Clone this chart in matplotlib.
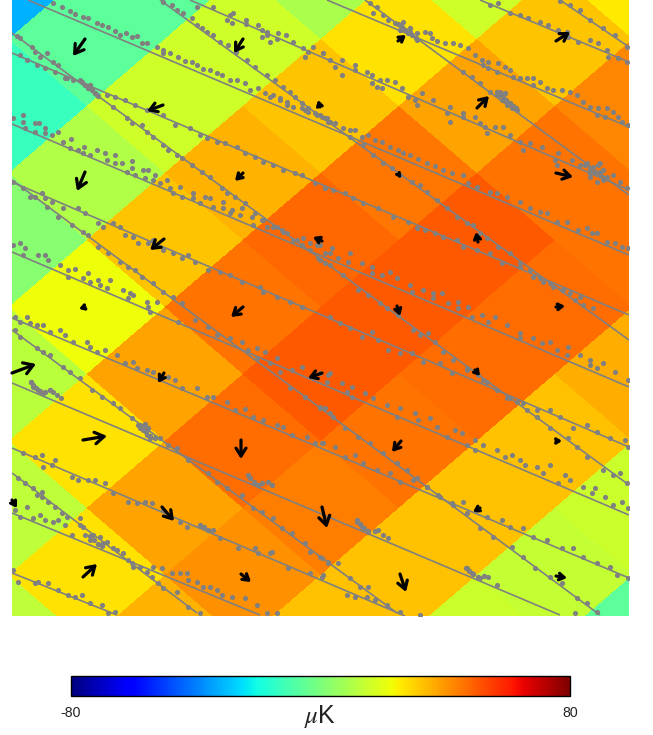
import numpy as np
import matplotlib
matplotlib.use('Agg')
import matplotlib.pyplot as plt

plt.rcParams['font.family'] = ['Liberation Sans', 'DejaVu Sans']
plt.rcParams['mathtext.fontset'] = 'stix'

# --- sky temperature per diamond pixel (muK), one list per map row, s = column index
row_s = {
    -4: (-5, [-32, -6, 9, 16, 26]),
    -3: (-4, [-6, 16, 27, 32]),
    -2: (-5, [-13, 16, 32, 38, 43]),
    -1: (-4, [10, 35, 45, 46]),
    0: (-5, [2, 32, 48, 50, 46]),
    1: (-4, [22, 46, 50, 47]),
    2: (-5, [12, 38, 50, 47, 36]),
    3: (-4, [27, 47, 46, 33]),
    4: (-5, [13, 38, 44, 33, 15]),
    5: (-4, [27, 41, 33, 14]),
    6: (-5, [13, 35, 33, 15, -6]),
}

# --- polarisation arrows: tail x, tail y, head x, head y (image pixels)
arrow_tail_x = [85, 243, 163, 85, 243, 164, 320, 85, 243, 164, 322, 322, 399, 398, 478, 477, 556, 556, 556, 397, 475, 401, 556, 480, 322, 400, 556, 241, 241, 162, 83, 83, 12, 12]
arrow_tail_y = [39, 39, 105, 172, 173, 239, 107, 307, 307, 373, 373, 241, 175, 41, 242, 108, 41, 173, 307, 306, 370, 441, 441, 508, 507, 574, 576, 440, 574, 507, 440, 577, 373, 500]
arrow_head_x = [73, 234, 147, 77, 235, 150, 318, 79, 231, 158, 308, 313, 401, 406, 476, 489, 570, 573, 565, 400, 480, 392, 562, 473, 327, 406, 567, 241, 251, 174, 107, 97, 36, 17]
arrow_head_y = [56, 53, 111, 191, 181, 250, 100, 309, 317, 383, 378, 237, 178, 35, 232, 96, 32, 177, 306, 316, 376, 452, 441, 512, 528, 592, 578, 459, 582, 521, 436, 564, 364, 508]

# --- straight scan lines: start and end (image pixels)
line_x0 = [28, 12, 12, 12, 12, 12, 12, 327, 365, 480, 190, 12, 160, 12, 12, 12, 12, 12, 560, 12]
line_y0 = [0, 124, 252, 383, 448, 513, 573, 0, 0, 0, 0, 33, 0, 180, 330, 473, 53, 182, 0, 318]
line_x1 = [629, 629, 629, 560, 405, 260, 117, 629, 629, 629, 629, 629, 629, 600, 397, 197, 629, 629, 629, 629]
line_y1 = [255, 387, 515, 615, 616, 615, 615, 127, 195, 62, 190, 485, 340, 615, 613, 613, 315, 447, 47, 578]

# --- tight dot clumps along the scans (image pixels)
clump_x = [82, 85, 88, 90, 92, 95, 98, 398, 400, 402, 405, 408, 410, 412, 416, 497, 500, 503, 505, 506, 510, 513, 516, 585, 590, 590, 595, 598, 600, 603, 605, 140, 143, 145, 146, 148, 150, 155, 248, 250, 254, 258, 262, 268, 272, 357, 360, 364, 368, 375, 466, 469, 473, 478, 484, 31, 33, 36, 40, 45, 50, 90, 94, 98, 102, 200, 204, 208]
clump_y = [82, 85, 88, 85, 90, 93, 96, 24, 30, 27, 30, 33, 28, 35, 38, 92, 95, 97, 93, 100, 103, 106, 108, 165, 168, 173, 172, 165, 175, 170, 178, 425, 428, 424, 432, 428, 436, 438, 475, 478, 482, 485, 483, 482, 485, 520, 524, 528, 531, 531, 568, 571, 574, 577, 576, 382, 385, 388, 391, 392, 390, 536, 540, 544, 546, 525, 527, 530]

dots_nw = [(160,10),(185,20),(210,32),(225,42),(250,50),(265,55),(290,70),(305,75),(325,80),(345,92),(360,105),(378,100),(395,112),(410,108),(425,130),(440,130),(470,140),(490,150),(490,160),(510,160),(535,170),(555,183),(575,185),(590,195),(610,208),(630,210),(650,220),(665,225),(690,240),(710,240),(735,250),(750,270),(775,265),(795,280),(820,285),(840,300),(860,305),(880,320),(905,325),(925,335),(950,345),(975,355),(990,365),
(590,20),(640,22),(690,45),(700,40),(680,60),(695,70),(737,60),(737,72),(775,75),(785,90),(800,95),(785,110),(810,125),(800,105),(835,100),(858,105),(830,118),(880,125),(910,145),(925,155),(915,170),(940,140),(970,160),(990,180),
(490,5),(515,15),(530,30),(550,40),(575,55),(590,75),(605,85),(620,95),(640,105),(660,125),(685,135),(708,155),(740,180),(765,200),(800,225),(825,240),(850,260),(870,275),(885,290),(905,310),(925,325),(945,340),(965,350),(985,365),(810,290),(840,295),(860,315),(915,330),
(50,108),(60,115),(95,140),(105,155),(120,170),(140,160),(160,185),(175,195),(200,235),(240,240),(265,260),(290,285),(340,320),(380,355),(395,370),(425,375),(440,395),(460,410),(490,435),(505,450),(530,465),(545,475),(575,495),(605,515),(630,530),(665,565),(680,580),(705,590),(735,610),(765,640),(790,660),(820,680),(850,695),(880,720),(905,735),(930,750),(955,775),(975,790),
(60,165),(80,180),(110,195),(135,205),(165,215),(195,235),(220,240),(255,255),(285,280),(320,285),(345,290),(375,300),(405,315),(440,330),(490,345),(525,375),(570,385),(600,405),(620,415),(650,425),(675,430),(710,440),(735,460),(765,470),(790,485),(820,495),(850,510),(885,520),(905,525),(945,550),(975,565),
(40,355),(68,345),(68,365),(75,385),(105,370),(118,370),(105,395),(135,385),(135,400),(155,405),(175,395),(190,425),(212,418),(210,445),(235,450),(252,440),(250,460),(270,465),(290,450),(315,460),(345,465),(345,490),(320,480),(365,490),(395,482),(395,505),(380,515),(405,525),(430,510),(445,510),(465,525),(460,540),(435,535),(480,550),(500,540),(510,565),(540,560),(520,580),(545,590),(580,580),(580,595),(615,590),(630,595),(600,610),(670,605),(640,620),(670,625),(695,630),(725,625),(690,640),(720,645),(755,650),(785,660),(760,675),(800,680),(830,680),(845,690),(860,700),(890,720),(910,715),(930,730),(950,735),(975,760),
(40,545),(70,565),(90,590),(105,590),(125,580),(135,595),(155,605),(140,620),(175,650),(190,625),(215,675),(235,625),(255,640),(250,695),(265,705),(295,670),(310,680),(295,740),(340,670),(360,680),(375,705),(400,710),(325,760),(360,785),(385,800),(405,810),(425,830),(460,850),(490,875),(520,890),(545,910),(415,730),(445,730),(460,720),(490,750),(520,760),(545,775),(565,765),(585,785),(625,810),(660,815),(690,825),(725,845),(780,860),(790,875),(830,890),(870,905),(905,920),
(40,735),(60,730),(75,745),(70,765),(115,765),(135,765),(145,780),(180,795),(205,810),(225,808),(205,830),(265,820),(250,835),(270,845),(295,840),(330,840),(320,865),(300,855),(370,870),(390,880),(400,885),(385,895),(440,905),(470,905),(445,920)]

dots_ne = [(150,10),(170,20),(160,40),(190,45),(205,60),(225,70),(240,75),(250,65),(255,90),(270,95),(290,100),(290,120),(315,95),(330,100),(335,115),(350,122),(375,130),(400,130),(420,135),(445,145),(465,165),(485,180),(505,185),(490,195),(535,190),(505,205),(555,200),(570,210),(530,215),(580,230),(600,235),(620,235),(640,235),(660,245),(640,255),(680,265),(700,270),(725,270),(750,275),(770,285),(790,305),(810,320),(835,325),(860,325),(880,335),(895,350),(830,345),(855,350),(905,365),(925,375),
(510,15),(535,10),(570,40),(600,45),(625,55),(660,65),(685,75),(715,90),(740,100),(775,125),(810,120),(835,130),(860,150),(865,170),(895,175),(920,185),(720,3),(750,15),(780,30),(810,60),(850,85),(885,105),(920,140),(740,95),(745,110),
(430,215),(455,230),(480,250),(510,275),(530,285),(545,300),(560,315),(575,325),(590,330),(540,275),
(10,160),(65,180),(45,200),(65,225),(105,195),(105,210),(140,215),(155,225),(155,250),(180,240),(170,262),(185,265),(200,240),(225,245),(245,265),(265,290),(285,300),(305,280),(290,315),(340,300),(390,320),(380,340),(390,365),(430,340),(430,350),(465,352),(480,370),(495,380),(500,400),(525,380),(550,382),(570,405),(600,425),(610,450),(630,430),(665,440),(715,460),(705,480),(710,495),(755,480),(780,495),(810,530),(830,545),(880,525),(900,545),(855,535),(920,565),
(800,490),(820,500),(840,515),(860,530),(810,510),(825,520),(840,490),(850,540),
(0,345),(20,355),(45,370),(70,385),(90,390),(105,390),(125,410),(145,405),(165,420),(185,425),(210,440),(235,450),(250,460),(270,465),(295,478),(320,490),(345,497),(370,510),(395,520),(430,525),(445,550),(470,560),(510,575),(530,580),(560,590),(600,605),(630,625),(660,635),(680,640),(710,665),(740,665),(775,690),(800,685),(815,700),(830,700),(860,725),(885,730),(905,740),(925,745),
(90,410),(130,435),(160,465),(190,490),(215,505),(240,525),(275,545),(300,555),(320,575),(350,600),(380,625),(410,650),(440,670),(460,675),(480,700),(500,715),(535,740),(570,760),(600,790),(630,810),(660,835),(690,850),(730,870),(750,880),(765,900),(790,915),(820,925),
(15,565),(40,570),(75,580),(100,595),(130,610),(175,625),(220,650),(265,665),(290,685),(315,690),(345,700),(370,710),(410,720),(430,740),(470,750),(510,760),(545,790),(600,800),(640,830),(670,845),(700,860),(725,870),(780,890),
(0,735),(35,745),(30,760),(55,775),(90,760),(85,785),(125,790),(155,800),(155,820),(185,825),(210,815),(230,835),(270,855),(275,875),(310,870),(340,880),(365,880),(340,895),(385,910),(415,905),(415,925),(445,920),(0,780),(30,795),(70,825),(115,870),(145,885),(180,910),(200,925)]

dots_sw = [(45,20),(80,20),(60,35),(90,40),(110,45),(130,45),(150,65),(180,60),(195,75),(220,95),(260,95),(270,110),(290,125),(315,120),(350,135),(375,160),(400,155),(410,175),(440,180),(460,185),(505,200),(525,210),(545,235),(590,235),(620,260),(640,260),(680,275),(705,300),(735,298),(760,320),(790,330),(830,345),(850,350),(875,375),(920,380),(945,400),(965,400),
(45,60),(60,80),(110,115),(130,125),(150,135),(190,170),(210,185),(240,205),(275,240),(305,262),(340,280),(360,295),(395,325),(415,345),(430,360),(440,375),(420,355),(450,385),(480,385),(505,405),(530,415),(565,450),(625,490),(650,515),(680,535),(725,555),(760,595),(785,605),(820,625),(845,655),(875,670),(915,700),(930,725),(965,745),(985,755),
(92,215),(100,230),(115,240),(130,250),(150,240),(160,245),(170,255),(182,265),
(450,5),(535,35),(585,30),(625,50),(650,75),(690,85),(725,95),(745,120),(770,115),(795,125),(810,160),(840,185),(875,180),(870,235),(915,260),(960,295),(990,310),(770,145),(830,145),(905,170),(940,200),(990,190),
(70,430),(105,440),(125,435),(165,450),(130,470),(155,465),(215,500),(235,510),(265,510),(285,510),(315,520),(340,550),(385,575),(410,580),(435,575),(455,580),(490,600),(540,635),(560,650),(600,645),(640,660),(660,685),(715,715),(765,715),(810,730),(865,775),(930,790),(965,800),(815,725),(775,730),
(55,505),(75,520),(100,535),(125,545),(125,560),(110,555),(145,575),(165,590),(185,610),(200,620),(240,625),(250,650),(280,675),(310,700),(340,715),(370,730),(385,750),(400,770),(440,785),(455,800),(475,820),(490,835),(530,845),(565,890),(600,910),
(45,600),(80,590),(60,620),(100,625),(120,615),(135,630),(160,635),(175,630),(195,645),(240,645),(215,675),(255,675),(270,690),(300,680),(320,695),(350,720),(395,760),(420,770),(460,770),(485,775),(515,790),(540,790),(560,790),(565,810),(590,815),(610,830),(650,840),(665,855),(695,860),(735,865),(770,885),(800,910),(830,910),(630,830),
(40,780),(55,815),(105,820),(115,815),(145,820),(175,840),(205,855),(225,860),(245,855),(270,880),(305,885),(325,910),(345,905)]

dots_se = [(235,15),(280,60),(300,75),(325,70),(345,95),(370,125),(400,150),(440,175),(475,195),(500,215),(530,240),(560,265),(590,275),(620,300),(650,320),(690,355),(745,385),(770,410),(800,440),(850,480),(880,495),(900,490),(920,520),
(30,20),(60,40),(90,55),(125,80),(155,65),(175,90),(205,120),(240,130),(275,130),(310,155),(360,160),(395,190),(440,180),(490,210),(530,240),(570,265),(610,280),(650,300),(690,300),(720,320),(760,355),(800,345),(830,365),(870,385),(915,390),(925,410),
(455,20),(485,15),(505,35),(525,20),(560,45),(600,70),(600,85),(640,85),(665,100),(690,95),(710,120),(745,110),(740,135),(780,135),(810,150),(810,165),(850,160),(830,175),(885,185),(925,210),
(0,190),(25,195),(20,215),(65,220),(95,230),(80,245),(95,260),(135,250),(160,265),(200,285),(240,295),(230,320),(285,310),(295,330),(330,325),(350,350),(405,360),(380,380),(425,370),(440,405),(465,390),(490,405),(465,420),(530,420),(555,440),(575,435),(600,450),(615,465),(650,470),(690,465),(670,490),(735,495),(715,520),(750,510),(790,530),(825,535),(815,550),(855,560),(880,585),(905,575),(925,595),
(0,290),(15,295),(40,320),(75,355),(115,380),(150,400),(190,430),(230,460),(260,480),(290,505),(320,530),(360,560),(400,585),(440,610),(480,655),(520,680),(575,710),(610,740),(645,775),(690,800),(725,820),(770,865),(800,880),(830,905),
(10,400),(45,410),(75,440),(105,435),(130,460),(170,480),(210,490),(240,515),(280,510),(320,530),(355,555),(395,580),(430,575),(470,600),(500,620),(545,630),(570,650),(610,655),(640,680),(680,690),(725,715),(760,715),(790,740),(830,760),(870,770),(890,795),(925,805),
(110,635),(125,650),(145,665),(175,660),(190,675),(205,685),(440,775),(455,790),(480,805),(505,800),(530,825),
(0,740),(25,760),(55,760),(90,805),(120,830),(145,830),(140,860),(165,870),(200,885),(240,905),(300,916),(10,795),(80,855),(105,860),(765,910)]

cbar_ticks = [-80, 80]
cbar_labels = ['-80', '80']

fig = plt.figure(figsize=(6.53, 7.35), dpi=100)
W, H = 653, 735
ax = fig.add_axes([12 / W, 1 - 616 / H, 617 / W, 616 / H])
ax.set_xlim(12, 629)
ax.set_ylim(616, 0)
ax.axis('off')

# diamond lattice as a sheared mesh
n = 14
off = 7
T = np.full((n, n), np.nan)
for d, (s0, vals) in row_s.items():
    for k, val in enumerate(vals):
        s = s0 + 2 * k
        u = (s - d - 1) // 2 + off
        v = (s + d - 1) // 2 + off
        T[u, v] = val
ui, vi = np.meshgrid(np.arange(n + 1) - off, np.arange(n + 1) - off, indexing='ij')
X = 400 + 78 * (ui + vi)
Y = 240 + 67 * (vi - ui)
mesh = ax.pcolormesh(X, Y, np.ma.masked_invalid(T), cmap='jet', vmin=-80, vmax=80,
                     shading='flat', edgecolors='face', linewidth=0.3)

# scan lines
for x0, y0, x1, y1 in zip(line_x0, line_y0, line_x1, line_y1):
    ax.plot([x0, x1], [y0, y1], color='#808080', lw=1.2, zorder=2, solid_capstyle='butt')

# scan dots
for dots, ox, oy in [(dots_nw, 0, 0), (dots_ne, 320, 0), (dots_sw, 0, 310), (dots_se, 320, 310)]:
    a = np.array(dots, dtype=float)
    ax.plot(a[:, 0] / 3 + ox, a[:, 1] / 3 + oy, ls='none', marker='o', ms=3.7,
            mfc='#808080', mec='none', zorder=3)
ax.plot(clump_x, clump_y, ls='none', marker='o', ms=3.9, mfc='#808080', mec='none', zorder=3)

# arrows
for x0, y0, x1, y1 in zip(arrow_tail_x, arrow_tail_y, arrow_head_x, arrow_head_y):
    L = np.hypot(x1 - x0, y1 - y0)
    ms = min(11, 1.5 + 0.42 * L)
    ax.annotate('', xy=(x1, y1), xytext=(x0, y0), zorder=4, annotation_clip=True,
                arrowprops=dict(arrowstyle='->,head_length=0.6,head_width=0.38', color='k',
                                lw=2.3, shrinkA=0, shrinkB=0, mutation_scale=ms))

# colour bar
cax = fig.add_axes([71 / W, 1 - 696 / H, 499 / W, 20 / H])
cb = fig.colorbar(mesh, cax=cax, orientation='horizontal')
cb.set_ticks(cbar_ticks)
cb.set_ticklabels(cbar_labels)
cax.tick_params(length=0, pad=7, labelsize=10.2, colors='#222222')
cb.outline.set_linewidth(1.0)
cb.outline.set_edgecolor('k')
fig.text(320 / W, 1 - 716 / H, r'$\mu$K', fontsize=18, ha='center', va='center', color='#222222')

fig.savefig('out.png', dpi=100)
